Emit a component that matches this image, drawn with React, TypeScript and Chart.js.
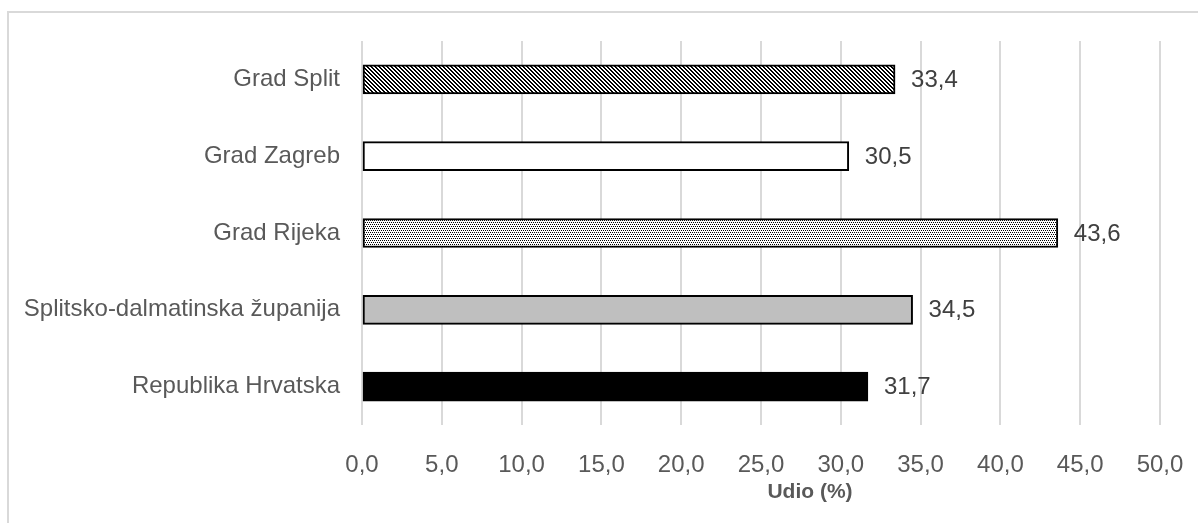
import React, { useEffect, useRef } from "react";
import { Chart, registerables } from "chart.js";

Chart.register(...registerables);

const categories = [
  "Grad Split",
  "Grad Zagreb",
  "Grad Rijeka",
  "Splitsko-dalmatinska županija",
  "Republika Hrvatska",
];
const values = [33.4, 30.5, 43.6, 34.5, 31.7];
const axisTitle = "Udio (%)";
const xMin = 0;
const xMax = 50;
const xStep = 5;

const FONT = "'Liberation Sans', Arial, sans-serif";

function makeTile(size: number, fn: (x: number, y: number) => boolean, bg = "#ffffff") {
  const c = document.createElement("canvas");
  c.width = size;
  c.height = size;
  const ctx = c.getContext("2d")!;
  ctx.fillStyle = bg;
  ctx.fillRect(0, 0, size, size);
  ctx.fillStyle = "#000000";
  for (let y = 0; y < size; y++) {
    for (let x = 0; x < size; x++) {
      if (fn(x, y)) ctx.fillRect(x, y, 1, 1);
    }
  }
  return c;
}

export default function App() {
  const ref = useRef<HTMLCanvasElement | null>(null);

  useEffect(() => {
    const canvas = ref.current;
    if (!canvas) return;
    const ctx = canvas.getContext("2d")!;

    const diag = ctx.createPattern(
      makeTile(4, (x, y) => (((x - y) % 4) + 4) % 4 < 2),
      "repeat"
    )!;
    const dots = ctx.createPattern(
      makeTile(4, (x, y) => (y === 0 && x % 2 === 0) || (y === 2 && x % 2 === 1)),
      "repeat"
    )!;

    const fills: (string | CanvasPattern)[] = [diag, "#ffffff", dots, "#bfbfbf", "#000000"];

    const frame = {
      id: "frame",
      beforeDraw(chart: any) {
        const c = chart.ctx;
        c.save();
        c.fillStyle = "#ffffff";
        c.fillRect(0, 0, chart.width, chart.height);
        c.strokeStyle = "#d9d9d9";
        c.lineWidth = 2;
        c.strokeRect(8, 12, chart.width + 20, chart.height + 20);
        c.restore();
      },
    };

    const labelsPlugin = {
      id: "valueLabels",
      afterDatasetsDraw(chart: any) {
        const c = chart.ctx;
        const meta = chart.getDatasetMeta(0);
        c.save();
        c.fillStyle = "#404040";
        c.font = `24px ${FONT}`;
        c.textAlign = "left";
        c.textBaseline = "middle";
        meta.data.forEach((bar: any, i: number) => {
          const txt = values[i].toFixed(1).replace(".", ",");
          c.fillText(txt, bar.x + 16, bar.y + 1);
        });
        c.fillStyle = "#595959";
        c.font = `bold 21px ${FONT}`;
        c.textAlign = "center";
        c.fillText(axisTitle, 810, 492);
        c.restore();
      },
    };

    const chart = new Chart(canvas, {
      type: "bar",
      data: {
        labels: categories,
        datasets: [
          {
            data: values,
            backgroundColor: fills as any,
            borderColor: "#000000",
            borderWidth: 2,
            borderSkipped: false,
            barThickness: 29,
          },
        ],
      },
      plugins: [frame, labelsPlugin],
      options: {
        indexAxis: "y",
        animation: false,
        responsive: false,
        devicePixelRatio: 1,
        layout: { padding: { left: 0, top: 41, right: 38, bottom: 0 } },
        plugins: {
          legend: { display: false },
          tooltip: { enabled: false },
        },
        scales: {
          x: {
            min: xMin,
            max: xMax,
            afterFit(scale: any) {
              scale.height = 98;
              scale.paddingLeft = 0;
              scale.paddingRight = 0;
            },
            ticks: {
              stepSize: xStep,
              padding: 26,
              color: "#595959",
              font: { family: FONT, size: 24 },
              callback: (v: any) => Number(v).toFixed(1).replace(".", ","),
            },
            grid: { color: "#d9d9d9", lineWidth: 2, drawTicks: false },
            border: { display: false },
          },
          y: {
            afterFit(scale: any) {
              scale.width = 362;
              scale.paddingTop = 0;
              scale.paddingBottom = 0;
            },
            ticks: {
              padding: 22,
              color: "#595959",
              font: { family: FONT, size: 24 },
            },
            grid: { display: false, drawTicks: false },
            border: { display: false },
          },
        },
      },
    });

    return () => chart.destroy();
  }, []);

  return (
    <div style={{ position: "fixed", left: 0, top: 0, width: 1198, height: 523, overflow: "hidden", background: "#fff" }}>
      <canvas ref={ref} width={1198} height={523} style={{ display: "block", width: 1198, height: 523 }} />
    </div>
  );
}
